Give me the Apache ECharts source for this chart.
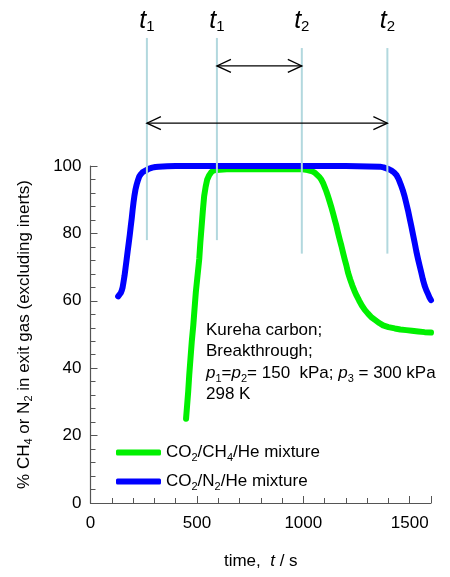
<!DOCTYPE html>
<html>
<head>
<meta charset="utf-8">
<script src="https://cdn.jsdelivr.net/npm/echarts@6/dist/echarts.min.js"></script>
<style>
  html, body { margin: 0; padding: 0; background: #fff; }
  #chart { width: 450px; height: 577px; }
</style>
</head>
<body>
<div id="chart"></div>
<script>
const FONT = '"Liberation Sans", Arial, Helvetica, sans-serif';

// CO2/CH4/He mixture: time (s) vs % CH4 in exit gas
const timeCH4 = [449, 454, 459, 464, 470, 476, 483, 489, 495, 503, 511, 516, 522, 528, 534, 541, 548, 558, 569, 580, 592, 640, 800, 990, 1005, 1020, 1033, 1046, 1056, 1066, 1076, 1085, 1093, 1100, 1108, 1116, 1124, 1132, 1140, 1148, 1156, 1163, 1171, 1179, 1187, 1195, 1203, 1210, 1220, 1230, 1240, 1250, 1262, 1275, 1289, 1304, 1320, 1340, 1357, 1375, 1400, 1430, 1456, 1484, 1510, 1540, 1570, 1600];
const pctCH4  = [25, 29, 33, 38, 43, 48, 52.7, 57.7, 62.6, 67.5, 72.4, 77.2, 82, 86.8, 91, 93.8, 95.9, 97.3, 98.3, 98.7, 98.8, 99, 99, 99, 98.95, 98.8, 98.6, 98.3, 97.9, 97.3, 96.7, 95.9, 94.9, 93.8, 92.5, 91, 89.4, 87.7, 85.9, 84, 82.1, 80.2, 78.2, 76.3, 74.2, 72.2, 70.3, 68.4, 66.4, 64.6, 63, 61.6, 60.1, 58.6, 57.3, 56.2, 55.1, 54.2, 53.4, 52.7, 52.2, 51.8, 51.5, 51.3, 51.1, 50.9, 50.7, 50.6];

// CO2/N2/He mixture: time (s) vs % N2 in exit gas
const timeN2 = [130, 136, 142, 147, 151, 155, 160, 165, 170, 175, 180, 185, 189, 194, 198, 202, 206, 211, 217, 223, 229, 237, 245, 254, 264, 276, 290, 305, 320, 360, 400, 800, 1200, 1360, 1377, 1391, 1403, 1415, 1426, 1437, 1448, 1458, 1467, 1476, 1484, 1492, 1500, 1508, 1516, 1524, 1531, 1539, 1547, 1555, 1562, 1570, 1578, 1586, 1593, 1600];
const pctN2  = [61.3, 61.7, 62.3, 63.1, 64, 65.5, 67.5, 69.9, 72.4, 74.9, 77.3, 79.8, 82, 84.6, 87, 89.1, 91, 92.9, 94.5, 95.8, 96.9, 97.6, 98.2, 98.5, 98.8, 99.2, 99.5, 99.7, 99.8, 99.9, 100, 100, 100, 99.8, 99.6, 99.3, 99, 98.6, 98.1, 97.4, 96.1, 94.5, 92.9, 91, 88.9, 86.8, 84.4, 82, 79.5, 77, 74.7, 72.4, 70.3, 68.2, 66.3, 64.5, 63.1, 62, 61, 60.2];

const seriesNames = ['CO2/CH4/He mixture', 'CO2/N2/He mixture'];
const legendLabels = ['CO{s|2}/CH{s|4}/He mixture', 'CO{s|2}/N{s|2}/He mixture'];

// breakthrough time markers t1 / t2
const markerTimes  = [265, 594, 993, 1395];
const markerSubs   = ['1', '1', '2', '2'];
const markerBottom = [78, 78, 74, 74];
const markerTop    = [138, 138, 135, 135];
const markerLabelLevel = 143;

// double-headed arrows between t1 and t2
const arrowFrom  = [594, 265];
const arrowTo    = [993, 1395];
const arrowLevel = [129.7, 112.7];

const noteLines = [
  'Kureha carbon;',
  'Breakthrough;',
  '{i|p}{s|1}={i|p}{s|2}= 150  kPa; {i|p}{s|3} = 300 kPa',
  '298 K'
];

const zip = (xs, ys) => xs.map((x, i) => [x, ys[i]]);

const subRich = {
  s: { fontSize: 11, lineHeight: 12, verticalAlign: 'bottom', fontFamily: FONT, color: '#000' },
  i: { fontSize: 17, lineHeight: 21, fontStyle: 'italic', fontFamily: FONT, color: '#000' }
};
const noteRich = {
  s: { fontSize: 11, lineHeight: 12, verticalAlign: 'bottom', fontFamily: FONT, fill: '#000' },
  i: { fontSize: 17, lineHeight: 22, fontStyle: 'italic', fontFamily: FONT, fill: '#000' }
};

const chart = echarts.init(document.getElementById('chart'), null, { renderer: 'canvas' });

const axisGrey = '#555';

chart.setOption({
  animation: false,
  backgroundColor: '#fff',
  grid: { left: 90.5, right: 19, top: 166, bottom: 71, containLabel: false },
  xAxis: [
    {
      type: 'value', min: 0, max: 1600, interval: 100,
      position: 'bottom',
      name: 'time,  {i|t} / s',
      nameLocation: 'middle', nameGap: 48,
      nameTextStyle: { fontFamily: FONT, fontSize: 17, color: '#000', lineHeight: 21, rich: subRich },
      axisLine: { show: true, lineStyle: { color: axisGrey, width: 1.2 } },
      axisTick: { show: true, inside: true, length: 5, lineStyle: { color: axisGrey } },
      axisLabel: {
        margin: 12, fontFamily: FONT, fontSize: 17, color: '#000',
        formatter: v => (v % 500 === 0 && v <= 1500) ? String(v) : ''
      },
      splitLine: { show: false }
    },
    {
      type: 'value', min: 0, max: 1600, interval: 500,
      position: 'bottom',
      axisLine: { show: false },
      axisTick: { show: true, inside: true, length: 7, lineStyle: { color: axisGrey } },
      axisLabel: { show: false },
      splitLine: { show: false }
    }
  ],
  yAxis: {
    type: 'value', min: 0, max: 100, interval: 20,
    name: '% CH{s|4} or N{s|2} in exit gas (excluding inerts)',
    nameLocation: 'middle', nameGap: 56,
    nameTextStyle: { fontFamily: FONT, fontSize: 17, color: '#000', lineHeight: 21, rich: subRich },
    axisLine: { show: true, lineStyle: { color: axisGrey, width: 1.2 } },
    axisTick: { show: true, inside: true, length: 7, lineStyle: { color: axisGrey } },
    minorTick: { show: true, splitNumber: 5, length: 5, lineStyle: { color: axisGrey } },
    axisLabel: { margin: 9, fontFamily: FONT, fontSize: 17, color: '#000' },
    splitLine: { show: false },
    minorSplitLine: { show: false }
  },
  legend: {
    orient: 'vertical', left: 111, top: 437,
    itemWidth: 45, itemHeight: 6, itemGap: 8,
    icon: 'roundRect',
    data: seriesNames,
    formatter: name => legendLabels[seriesNames.indexOf(name)],
    textStyle: {
      fontFamily: FONT, fontSize: 17, color: '#000', lineHeight: 21,
      rich: subRich
    },
    selectedMode: false
  },
  graphic: [
    {
      type: 'text', left: 206, top: 320, z: 50,
      style: {
        text: noteLines.join('\n'),
        fontFamily: FONT, fontSize: 17, lineHeight: 21, fill: '#000',
        rich: noteRich
      }
    }
  ],
  series: [
    {
      name: seriesNames[0], type: 'line', data: zip(timeCH4, pctCH4),
      smooth: false, showSymbol: false, symbol: 'none',
      color: '#00f000',
      lineStyle: { color: '#00f000', width: 6, cap: 'round', join: 'round' },
      z: 2
    },
    {
      name: seriesNames[1], type: 'line', data: zip(timeN2, pctN2),
      smooth: false, showSymbol: false, symbol: 'none',
      color: '#0000ff',
      lineStyle: { color: '#0000ff', width: 6, cap: 'round', join: 'round' },
      z: 3
    },
    {
      // vertical breakthrough markers with t labels above
      type: 'custom', clip: false, z: 5, silent: true,
      data: markerTimes.map((t, i) => [t, markerBottom[i], markerTop[i], i]),
      renderItem: (params, api) => {
        const t = api.value(0);
        const idx = api.value(3);
        const pBot = api.coord([t, api.value(1)]);
        const pTop = api.coord([t, api.value(2)]);
        const pLab = api.coord([t, markerLabelLevel]);
        return {
          type: 'group',
          children: [
            {
              type: 'line',
              shape: { x1: pBot[0], y1: pBot[1], x2: pTop[0], y2: pTop[1] },
              style: { stroke: '#b2d8de', lineWidth: 2 }
            },
            {
              type: 'text', x: pLab[0], y: pLab[1],
              style: {
                text: '{t|t}{n|' + markerSubs[idx] + '}',
                align: 'center', verticalAlign: 'middle',
                rich: {
                  t: { fontFamily: FONT, fontSize: 25, fontStyle: 'italic', lineHeight: 26, fill: '#000' },
                  n: { fontFamily: FONT, fontSize: 15, lineHeight: 14, verticalAlign: 'bottom', fill: '#000' }
                }
              }
            }
          ]
        };
      }
    },
    {
      // double-headed arrows
      type: 'custom', clip: false, z: 6, silent: true,
      data: arrowFrom.map((a, i) => [a, arrowLevel[i], arrowTo[i]]),
      renderItem: (params, api) => {
        const pA = api.coord([api.value(0), api.value(1)]);
        const pB = api.coord([api.value(2), api.value(1)]);
        const y = pA[1];
        const hl = 14, hw = 6.5;
        const st = { stroke: '#000', lineWidth: 1.3, fill: null };
        return {
          type: 'group',
          children: [
            { type: 'line', shape: { x1: pA[0], y1: y, x2: pB[0], y2: y }, style: st },
            { type: 'polyline', shape: { points: [[pA[0] + hl, y - hw], [pA[0], y], [pA[0] + hl, y + hw]] }, style: st },
            { type: 'polyline', shape: { points: [[pB[0] - hl, y - hw], [pB[0], y], [pB[0] - hl, y + hw]] }, style: st }
          ]
        };
      }
    }
  ]
});
</script>
</body>
</html>
